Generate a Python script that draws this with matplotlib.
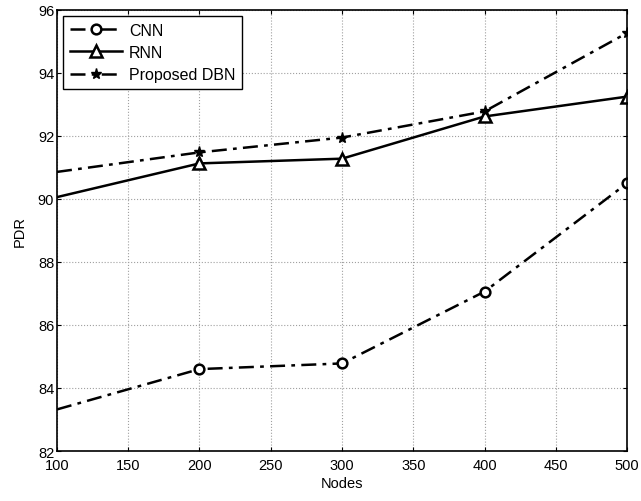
import matplotlib
matplotlib.use("Agg")
import matplotlib.pyplot as plt

nodes = [100, 200, 300, 400, 500]
cnn = [83.32, 84.6, 84.78, 87.06, 90.5]
rnn = [90.06, 91.13, 91.28, 92.62, 93.25]
dbn = [90.86, 91.48, 91.95, 92.78, 95.27]
labels = ["CNN", "RNN", "Proposed DBN"]

plt.rcParams['font.family'] = ['Liberation Sans', 'DejaVu Sans']
fig = plt.figure(figsize=(6.41, 5.02), dpi=100)
ax = fig.add_axes([0.0889, 0.0996, 0.8893, 0.8785])

mk = [1, 2, 3, 4]
ax.plot(nodes, cnn, color='black', lw=1.8, ls=(0, (6, 2.5, 1.5, 2.5)), marker='o',
        ms=7, mfc='white', mec='black', mew=1.8, markevery=mk, label=labels[0])
ax.plot(nodes, rnn, color='black', lw=1.8, ls='-', marker='^',
        ms=9, mfc='white', mec='black', mew=1.8, markevery=mk, label=labels[1])
ax.plot(nodes, dbn, color='black', lw=1.8, ls=(0, (6, 2.5, 1.5, 2.5)), marker='*',
        ms=8, mfc='black', mec='black', mew=1.0, markevery=mk, label=labels[2])

ax.set_xlim(100, 500)
ax.set_ylim(82, 96)
ax.set_xticks(range(100, 501, 50))
ax.set_yticks(range(82, 97, 2))
ax.grid(True, color='#a0a0a0', ls=':', lw=0.8)
ax.tick_params(direction='in', top=True, right=True, labelsize=10.5, length=3, width=0.8, pad=2)
ax.tick_params(axis='x', pad=5)
for s in ax.spines.values():
    s.set_linewidth(1.2)
ax.set_xlabel("Nodes", fontsize=10.5, labelpad=3)
ax.set_ylabel("PDR", fontsize=10.5, labelpad=8)

leg = ax.legend(loc='upper left', fontsize=11.5, frameon=True, fancybox=False,
                edgecolor='black', framealpha=1, borderaxespad=0.35,
                handlelength=3.25, labelspacing=0.45, borderpad=0.45, handletextpad=0.45)
leg.get_frame().set_linewidth(1.0)

fig.savefig("out.png", dpi=100)
